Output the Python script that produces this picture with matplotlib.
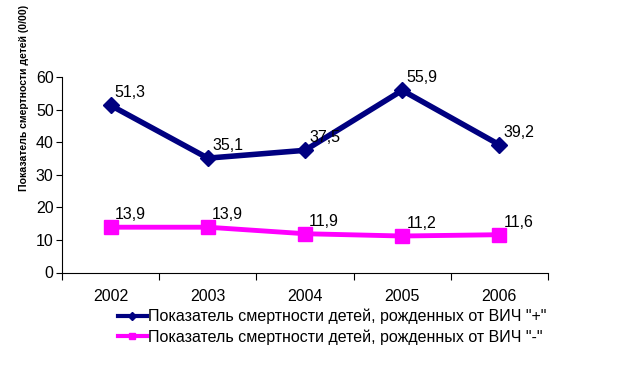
import numpy as np
import matplotlib.pyplot as plt

plt.rcParams['font.family'] = ['Liberation Sans', 'DejaVu Sans']

# data
years = ['2002', '2003', '2004', '2005', '2006']
hiv_pos = [51.3, 35.1, 37.5, 55.9, 39.2]
hiv_neg = [13.9, 13.9, 11.9, 11.2, 11.6]
label_pos = 'Показатель смертности детей, рожденных от ВИЧ "+"'
label_neg = 'Показатель смертности детей, рожденных от ВИЧ "-"'
ylabel = 'Показатель смертности детей (0/00)'

fig = plt.figure(figsize=(6.17, 3.67), dpi=100)
ax = fig.add_axes([62/617, (367-272.5)/367, (548-62)/617, (272.5-77)/367])

x = np.arange(len(years))
ax.plot(x, hiv_pos, color='#000080', lw=4, marker='D', markersize=8, label=label_pos)
ax.plot(x, hiv_neg, color='#FF00FF', lw=3.5, marker='s', markersize=9.5, label=label_neg)

# data labels, comma as decimal separator
for xs, ys in [(x, hiv_pos), (x, hiv_neg)]:
    for xi, yi in zip(xs, ys):
        ax.annotate(f'{yi:.1f}'.replace('.', ','), (xi, yi), xytext=(3, 3.5),
                    textcoords='offset points', fontsize=11.5, ha='left', va='bottom')

ax.set_xlim(-0.5, len(years) - 0.5)
ax.set_ylim(0, 60)
ax.set_yticks(range(0, 61, 10))
ax.set_xticks(np.arange(-0.5, len(years)), minor=False)
ax.set_xticklabels([])
ax.set_xticks(x, minor=True)
ax.set_xticklabels(years, minor=True)
ax.tick_params(axis='x', which='major', direction='out', length=5)
ax.tick_params(axis='x', which='minor', length=0, pad=12, labelsize=11.5)
ax.tick_params(axis='y', direction='out', length=4, labelsize=11.5, pad=2)
for s in ['top', 'right']:
    ax.spines[s].set_visible(False)

fig.text(24/617, 1 - 5/367, ylabel, rotation=90, ha='center', va='top',
         fontsize=7.6, fontweight='bold')

leg = fig.legend(loc='upper left', bbox_to_anchor=(118/617, 1 - 309/367),
                 frameon=False, fontsize=11.5, handlelength=1.8, handletextpad=0.1,
                 labelspacing=0.3, borderaxespad=0, borderpad=0, markerscale=0.5)
for line in leg.get_lines():
    line.set_linewidth(3)

plt.savefig('out.png', dpi=100)
